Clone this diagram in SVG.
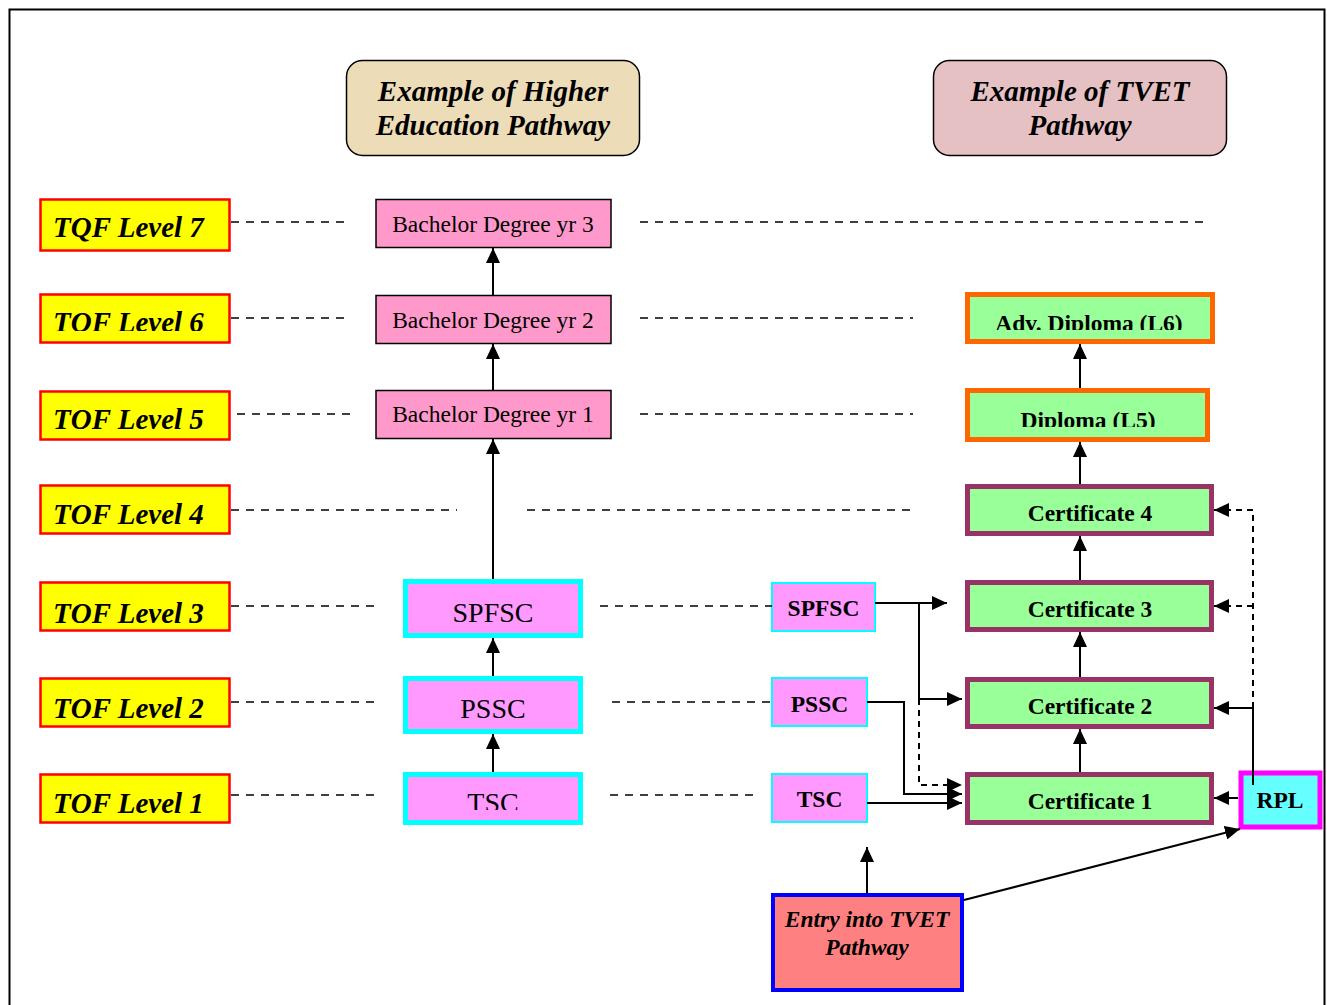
<svg xmlns="http://www.w3.org/2000/svg" width="1327" height="1005" viewBox="0 0 1327 1005">
<style>
.lbl rect{fill:#ffff00;stroke:#ff0000;stroke-width:2.5}
.lbl text{font-family:"Liberation Serif",serif;font-weight:bold;font-style:italic;font-size:29px;fill:#000}
.hdr text{font-family:"Liberation Serif",serif;font-weight:bold;font-style:italic;font-size:29px;fill:#000;text-anchor:middle}
.bach rect{fill:#ff99cc;stroke:#000;stroke-width:1.5}
.bach text{font-family:"Liberation Serif",serif;font-size:23.5px;fill:#000;text-anchor:middle}
.sc rect{fill:#ff99ff;stroke:#00ffff;stroke-width:5}
.sc text{font-family:"Liberation Serif",serif;font-size:28px;fill:#000;text-anchor:middle}
.ss rect{fill:#ff99ff;stroke:#00ffff;stroke-width:2}
.ss text{font-family:"Liberation Serif",serif;font-weight:bold;font-size:23.5px;fill:#000;text-anchor:middle}
.cert rect{fill:#99ff99;stroke:#993366;stroke-width:5}
.dip rect{fill:#99ff99;stroke:#ff6600;stroke-width:5}
.cert text,.dip text{font-family:"Liberation Serif",serif;font-weight:bold;font-size:23.5px;fill:#000;text-anchor:middle}
.dash{stroke:#000;stroke-width:1.5;stroke-dasharray:8 7;fill:none}
.ln{stroke:#000;stroke-width:2;fill:none}
.dl{stroke:#000;stroke-width:2;fill:none;stroke-dasharray:6 5}
.arr{marker-end:url(#ah)}
</style>
<defs>
<marker id="ah" markerUnits="userSpaceOnUse" markerWidth="15" markerHeight="14" refX="15" refY="7" orient="auto">
<path d="M0,0 L15,7 L0,14 z" fill="#000"/>
</marker>
<clipPath id="c6"><rect x="0" y="0" width="1327" height="331"/></clipPath>
<clipPath id="c5"><rect x="0" y="0" width="1327" height="429"/></clipPath>
<clipPath id="c4"><rect x="0" y="0" width="1327" height="524"/></clipPath>
<clipPath id="c3"><rect x="0" y="0" width="1327" height="623"/></clipPath>
<clipPath id="c2"><rect x="0" y="0" width="1327" height="718"/></clipPath>
<clipPath id="c1"><rect x="0" y="0" width="1327" height="813"/></clipPath>
<clipPath id="ctsc"><rect x="0" y="0" width="1327" height="810"/></clipPath>
<clipPath id="cadv"><rect x="0" y="0" width="1327" height="330"/></clipPath>
<clipPath id="cdip"><rect x="0" y="0" width="1327" height="427"/></clipPath>
</defs>
<rect x="9.5" y="9.5" width="1315" height="1010" fill="#fff" stroke="#000" stroke-width="2"/>

<g id="hdr-he" class="hdr">
<rect x="346.5" y="60.5" width="293" height="95" rx="16" fill="#ecdcb8" stroke="#000" stroke-width="1.5"/>
<text x="493" y="101">Example of Higher</text>
<text x="493" y="135">Education Pathway</text>
</g>
<g id="hdr-tvet" class="hdr">
<rect x="933.5" y="60.5" width="293" height="95" rx="16" fill="#e6c1c4" stroke="#000" stroke-width="1.5"/>
<text x="1080" y="101">Example of TVET</text>
<text x="1080" y="135">Pathway</text>
</g>

<g id="tqf7" class="lbl"><rect x="40.5" y="199.5" width="189" height="51"/><text x="53" y="237">TQF Level 7</text></g>
<g id="tqf6" class="lbl"><rect x="40.5" y="294.5" width="189" height="48"/><text x="53" y="332" clip-path="url(#c6)">TQF Level 6</text></g>
<g id="tqf5" class="lbl"><rect x="40.5" y="391.5" width="189" height="48"/><text x="53" y="429" clip-path="url(#c5)">TQF Level 5</text></g>
<g id="tqf4" class="lbl"><rect x="40.5" y="485.5" width="189" height="48"/><text x="53" y="524" clip-path="url(#c4)">TQF Level 4</text></g>
<g id="tqf3" class="lbl"><rect x="40.5" y="582.5" width="189" height="48"/><text x="53" y="623" clip-path="url(#c3)">TQF Level 3</text></g>
<g id="tqf2" class="lbl"><rect x="40.5" y="678.5" width="189" height="48"/><text x="53" y="718" clip-path="url(#c2)">TQF Level 2</text></g>
<g id="tqf1" class="lbl"><rect x="40.5" y="774.5" width="189" height="48"/><text x="53" y="813" clip-path="url(#c1)">TQF Level 1</text></g>

<g id="bach3" class="bach"><rect x="376" y="199.5" width="235" height="48"/><text x="493" y="232">Bachelor Degree yr 3</text></g>
<g id="bach2" class="bach"><rect x="376" y="295.5" width="235" height="48"/><text x="493" y="328">Bachelor Degree yr 2</text></g>
<g id="bach1" class="bach"><rect x="376" y="390.5" width="235" height="48"/><text x="493" y="422">Bachelor Degree yr 1</text></g>

<g id="spfsc-he" class="sc"><rect x="405.5" y="581.5" width="175" height="54"/><text x="493" y="622">SPFSC</text></g>
<g id="pssc-he" class="sc"><rect x="405.5" y="678.5" width="175" height="53"/><text x="493" y="718">PSSC</text></g>
<g id="tsc-he" class="sc"><rect x="405.5" y="774.5" width="175" height="48"/><text x="493" y="812" clip-path="url(#ctsc)">TSC</text></g>

<g id="spfsc-tv" class="ss"><rect x="772" y="583" width="103" height="48"/><text x="823.5" y="616">SPFSC</text></g>
<g id="pssc-tv" class="ss"><rect x="772" y="678" width="95" height="48"/><text x="819.5" y="712">PSSC</text></g>
<g id="tsc-tv" class="ss"><rect x="772" y="774" width="95" height="48"/><text x="819.5" y="807">TSC</text></g>

<g id="advdip" class="dip"><rect x="967.5" y="294.5" width="245" height="47"/><text x="1089" y="331" clip-path="url(#cadv)">Adv. Diploma (L6)</text></g>
<g id="dip" class="dip"><rect x="967.5" y="390.5" width="240" height="49"/><text x="1088" y="428" clip-path="url(#cdip)">Diploma (L5)</text></g>
<g id="cert4" class="cert"><rect x="967.5" y="486.5" width="244" height="47"/><text x="1090" y="521">Certificate 4</text></g>
<g id="cert3" class="cert"><rect x="967.5" y="582.5" width="244" height="47"/><text x="1090" y="617">Certificate 3</text></g>
<g id="cert2" class="cert"><rect x="967.5" y="679.5" width="244" height="47"/><text x="1090" y="714">Certificate 2</text></g>
<g id="cert1" class="cert"><rect x="967.5" y="774.5" width="244" height="48"/><text x="1090" y="809">Certificate 1</text></g>

<g id="rpl"><rect x="1241" y="773" width="79" height="54" fill="#66ffff" stroke="#ff00ff" stroke-width="5"/><text x="1280" y="808" font-family="Liberation Serif,serif" font-weight="bold" font-size="23.5" text-anchor="middle">RPL</text></g>

<g id="entry"><rect x="773" y="895" width="189" height="95" fill="#ff8080" stroke="#0000ff" stroke-width="4"/>
<text x="867" y="927" font-family="Liberation Serif,serif" font-weight="bold" font-style="italic" font-size="23.5" text-anchor="middle">Entry into TVET</text>
<text x="867" y="955" font-family="Liberation Serif,serif" font-weight="bold" font-style="italic" font-size="23.5" text-anchor="middle">Pathway</text></g>

<g id="connectors">
<path class="dash" d="M231,222 H348 M640,222 H1207"/>
<path class="dash" d="M231,318 H348 M640,318 H913"/>
<path class="dash" d="M237,414 H357 M640,414 H913"/>
<path class="dash" d="M231,510 H457 M527,510 H913"/>
<path class="dash" d="M231,606 H375 M600,606 H772"/>
<path class="dash" d="M231,702 H375 M612,702 H772"/>
<path class="dash" d="M231,795 H375 M610,795 H757"/>

<line class="ln arr" x1="493" y1="295" x2="493" y2="248"/>
<line class="ln arr" x1="493" y1="390" x2="493" y2="344"/>
<line class="ln arr" x1="493" y1="579" x2="493" y2="439"/>
<line class="ln arr" x1="493" y1="676" x2="493" y2="638"/>
<line class="ln arr" x1="493" y1="772" x2="493" y2="734"/>

<line class="ln arr" x1="1080" y1="388" x2="1080" y2="344"/>
<line class="ln arr" x1="1080" y1="484" x2="1080" y2="442"/>
<line class="ln arr" x1="1080" y1="580" x2="1080" y2="536"/>
<line class="ln arr" x1="1080" y1="677" x2="1080" y2="632"/>
<line class="ln arr" x1="1080" y1="772" x2="1080" y2="729"/>

<path class="ln arr" d="M875,603 H947"/>
<path class="ln arr" d="M919,603 V699 H962"/>
<path class="dl arr" d="M919,699 V785 H962"/>
<path class="ln arr" d="M867,702 H904 V794 H962"/>
<path class="ln arr" d="M867,803 H962"/>

<path class="ln arr" d="M1238,798 H1214"/>
<path class="ln" d="M1253,785 V708"/>
<path class="ln arr" d="M1253,708 H1214"/>
<path class="dl" d="M1253,708 V510"/>
<path class="dl arr" d="M1253,606 H1214"/>
<path class="dl arr" d="M1253,510 H1214"/>

<line class="ln arr" x1="867" y1="893" x2="867" y2="847"/>
<line class="ln arr" x1="964" y1="900" x2="1240" y2="829"/>
</g>
</svg>
